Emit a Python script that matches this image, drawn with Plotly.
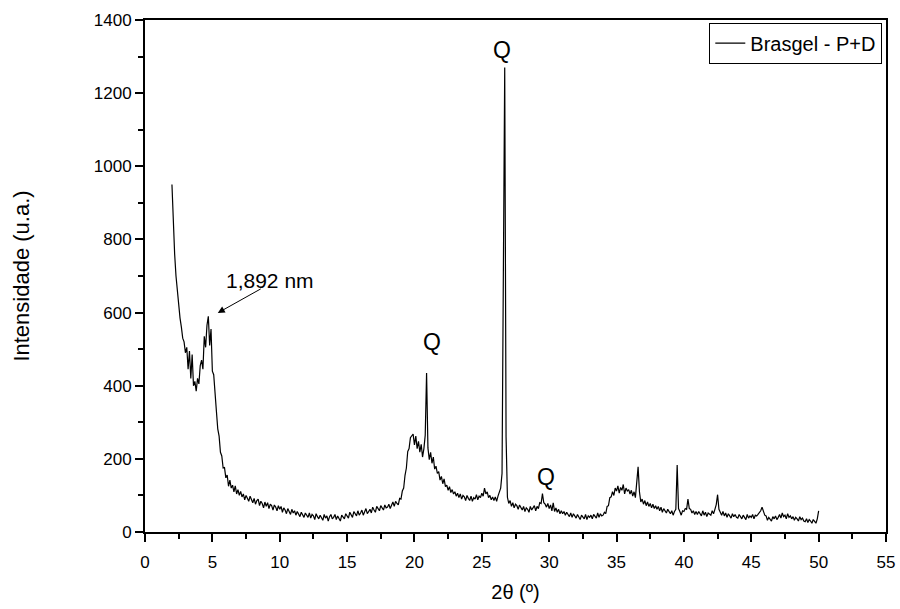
import plotly.graph_objects as go

start_2theta = 2.0
step_2theta = 0.1
intensity = [
    950, 830, 760, 700, 655, 630, 585, 560, 530, 520,   # 2
    490, 505, 445, 495, 420, 485, 400, 412, 385, 420,   # 3
    405, 455, 470, 445, 535, 505, 565, 590, 510, 555,   # 4
    440, 430, 362, 330, 282, 262, 218, 208, 175, 176,   # 5
    148, 156, 125, 142, 120, 128, 110, 126, 104, 116,   # 6
    100, 111, 96, 104, 88, 100, 92, 84, 98, 90,         # 7
    80, 92, 76, 86, 90, 72, 84, 78, 66, 82,             # 8
    70, 80, 64, 76, 72, 60, 74, 68, 58, 72,             # 9
    62, 70, 54, 66, 60, 50, 64, 56, 48, 62,             # 10
    52, 58, 46, 56, 50, 42, 54, 48, 40, 52,             # 11
    46, 40, 52, 38, 48, 44, 34, 50, 42, 36,             # 12
    46, 40, 32, 48, 38, 44, 30, 42, 48, 36,             # 13
    40, 48, 34, 44, 38, 30, 46, 42, 36, 50,             # 14
    42, 38, 54, 46, 40, 56, 48, 44, 58, 46,             # 15
    52, 60, 46, 56, 64, 50, 58, 62, 52, 68,             # 16
    60, 54, 70, 62, 58, 72, 64, 60, 74, 66,             # 17
    68, 76, 64, 72, 82, 70, 84, 78, 74, 92,             # 18
    90, 112, 120, 155, 175, 220, 228, 258, 262, 268,    # 19
    238, 262, 228, 248, 218, 240, 205, 228, 265, 435,   # 20
    230, 198, 218, 188, 205, 172, 180, 160, 165, 142,   # 21
    152, 132, 145, 124, 128, 114, 124, 108, 116, 104,   # 22
    110, 98, 106, 94, 104, 90, 100, 96, 86, 100,        # 23
    92, 86, 98, 84, 94, 90, 102, 88, 98, 94,            # 24
    106, 98, 120, 104, 110, 94, 100, 88, 96, 86,        # 25
    96, 84, 98, 110, 120, 160, 800, 1270, 260, 95,      # 26
    78, 86, 70, 80, 66, 76, 72, 62, 74, 66,             # 27
    60, 70, 56, 66, 62, 54, 70, 60, 66, 72,             # 28
    58, 70, 64, 80, 78, 105, 80, 76, 68, 78,            # 29
    64, 74, 58, 80, 56, 66, 54, 62, 50, 58,             # 30
    50, 56, 46, 54, 48, 42, 52, 40, 50, 44,             # 31
    38, 48, 42, 34, 46, 40, 36, 48, 34, 44,             # 32
    40, 46, 36, 48, 42, 38, 52, 40, 50, 44,             # 33
    46, 54, 50, 70, 72, 94, 96, 110, 100, 120,          # 34
    112, 126, 106, 122, 114, 130, 104, 120, 112, 116,   # 35
    104, 114, 98, 110, 94, 130, 178, 110, 82, 90,       # 36
    76, 86, 72, 82, 70, 78, 66, 76, 64, 72,             # 37
    62, 70, 58, 68, 54, 64, 58, 52, 62, 56,             # 38
    50, 58, 46, 56, 62, 183, 64, 56, 46, 58,            # 39
    56, 64, 62, 90, 64, 62, 52, 58, 48, 56,             # 40
    48, 56, 50, 44, 58, 46, 54, 42, 52, 48,             # 41
    46, 58, 50, 62, 75, 102, 62, 54, 46, 56,            # 42
    44, 52, 40, 50, 44, 38, 50, 42, 48, 40,             # 43
    38, 48, 42, 36, 46, 40, 34, 48, 38, 44,             # 44
    40, 48, 36, 46, 44, 48, 52, 58, 68, 54,             # 45
    46, 44, 32, 40, 34, 30, 42, 36, 44, 34,             # 46
    40, 48, 38, 52, 42, 46, 36, 50, 40, 44,             # 47
    36, 42, 32, 40, 36, 30, 42, 34, 38, 30,             # 48
    28, 36, 26, 34, 30, 24, 34, 28, 24, 36,             # 49
    58,                                                 # 50
]
two_theta = [round(start_2theta + step_2theta * i, 1) for i in range(len(intensity))]

series_name = "Brasgel - P+D"
peak_labels = ["Q", "Q", "Q"]
peak_label_x = [21.3, 26.5, 29.8]
peak_label_y = [520, 1318, 150]
spacing_label = "1,892 nm"

FONT = "Liberation Sans, Arial, sans-serif"

fig = go.Figure()
fig.add_trace(go.Scatter(
    x=two_theta, y=intensity, mode="lines", name=series_name,
    line=dict(color="black", width=1.2),
))

for t, xx, yy in zip(peak_labels, peak_label_x, peak_label_y):
    fig.add_annotation(x=xx, y=yy, text=t, showarrow=False,
                       font=dict(size=23, color="black", family=FONT))

fig.add_annotation(x=9.3, y=689, text=spacing_label, showarrow=False,
                   font=dict(size=21, color="black", family=FONT))
fig.add_annotation(x=5.4, y=599, ax=8.7, ay=667, axref="x", ayref="y",
                   xref="x", yref="y", text="", showarrow=True,
                   arrowhead=2, arrowsize=1.4, arrowwidth=1, arrowcolor="black")

axis_common = dict(
    showline=True, linecolor="black", linewidth=2, mirror=True,
    ticks="outside", tickcolor="black", tickwidth=2, ticklen=8,
    showgrid=False, zeroline=False, automargin=False,
    tickfont=dict(size=17, color="black", family=FONT),
)

fig.update_xaxes(
    range=[0, 55], tick0=0, dtick=5,
    minor=dict(ticks="outside", dtick=2.5, ticklen=5, tickwidth=2, tickcolor="black", showgrid=False),
    ticklabelstandoff=6,
    title=dict(text="2θ (º)", font=dict(size=20, color="black", family=FONT), standoff=14),
    **axis_common,
)
fig.update_yaxes(
    range=[0, 1400], tick0=0, dtick=200,
    minor=dict(ticks="outside", dtick=100, ticklen=5, tickwidth=2, tickcolor="black", showgrid=False),
    title=dict(text="Intensidade (u.a.)", font=dict(size=22, color="black", family=FONT), standoff=58),
    **axis_common,
)

fig.update_layout(
    width=900, height=609,
    margin=dict(l=145, r=14, t=20, b=77),
    paper_bgcolor="white", plot_bgcolor="white",
    showlegend=True,
    legend=dict(x=0.995, y=0.995, xanchor="right", yanchor="top",
                bordercolor="black", borderwidth=1, bgcolor="white",
                font=dict(size=20, color="black", family=FONT),
                tracegroupgap=0),
)

fig.write_html("out.html")
